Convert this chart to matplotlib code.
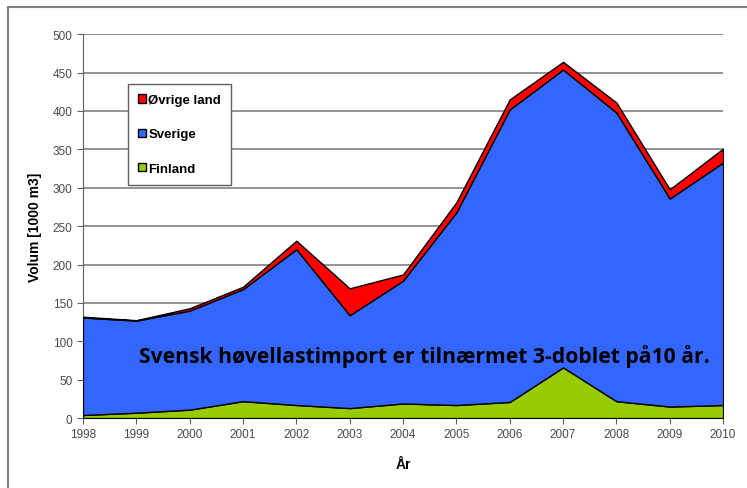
import matplotlib.pyplot as plt
from matplotlib.patches import Rectangle

# Data
years = [1998, 1999, 2000, 2001, 2002, 2003, 2004, 2005, 2006, 2007, 2008, 2009, 2010]
finland = [4, 7, 11, 22, 17, 13, 19, 17, 21, 66, 22, 15, 17]
sverige = [127, 120, 129, 146, 203, 121, 160, 251, 381, 388, 376, 271, 316]
ovrige = [1, 0.5, 3, 3, 11, 35, 8, 13, 13, 10, 13, 12, 18]

labels = ["Finland", "Sverige", "Øvrige land"]
colors = ["#99CC00", "#3366FF", "#FF0000"]

fig = plt.figure(figsize=(7.47, 4.89), dpi=100)
ax = fig.add_axes([0.111, 0.143, 0.857, 0.785])

# outer frame
fig.patches.append(Rectangle((8 / 747, -0.1), 1.2, 1 - 8 / 489 + 0.1, transform=fig.transFigure,
                             fill=False, edgecolor="#808080", linewidth=1.5))

polys = ax.stackplot(years, finland, sverige, ovrige, colors=colors, labels=labels,
                     edgecolor="black", linewidth=1, zorder=3)

ax.set_xlim(1998, 2010)
ax.set_ylim(0, 500)
ax.set_xticks(years)
ax.set_yticks(range(0, 501, 50))
ax.grid(axis="y", color="#808080", linewidth=1.2, zorder=0)
ax.set_axisbelow(True)

for s in ["top", "right"]:
    ax.spines[s].set_visible(False)
ax.spines["left"].set_color("#606060")
ax.spines["bottom"].set_color("#606060")
ax.tick_params(direction="out", length=4, color="#606060", labelcolor="#4a4a4a",
               labelsize=8.5)
for lbl in ax.get_xticklabels() + ax.get_yticklabels():
    lbl.set_family("Liberation Sans")

ax.set_ylabel("Volum [1000 m3]", fontweight="bold", fontsize=10, family="Liberation Sans",
              labelpad=8)
ax.set_xlabel("År", fontweight="bold", fontsize=10, family="Liberation Sans", labelpad=12)

handles, labs = ax.get_legend_handles_labels()
leg = ax.legend(handles[::-1], labs[::-1], loc="upper left", bbox_to_anchor=(0.07, 0.87),
                prop={"family": "Liberation Sans", "weight": "bold", "size": 9.5},
                fancybox=False, edgecolor="#606060", framealpha=1,
                handlelength=0.6, handleheight=0.6, handletextpad=0.2,
                labelspacing=1.7, borderpad=0.75, borderaxespad=0)
leg.get_frame().set_linewidth(1)
leg.set_zorder(5)

ax.text(1999.05, 82, "Svensk høvellastimport er tilnærmet 3-doblet på10 år.",
        fontsize=15.2, fontweight="bold", family="Open Sans", color="black",
        ha="left", va="center", zorder=6)

fig.savefig("out.png", dpi=100)
